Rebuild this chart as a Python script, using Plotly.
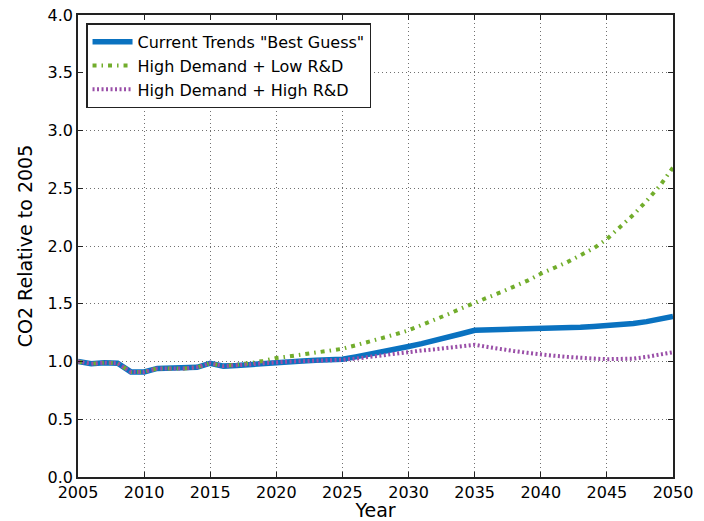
import plotly.graph_objects as go

# Annual CO2 emissions relative to the 2005 level, by scenario
years = list(range(2005, 2051))

current_trends = [
    1.00, 0.98, 0.99, 0.985, 0.91, 0.91, 0.94, 0.94, 0.94, 0.95,    # 2005-2014
    0.985, 0.96, 0.965, 0.975, 0.985, 0.995, 1.00, 1.005, 1.01, 1.015,  # 2015-2024
    1.02, 1.04, 1.06, 1.08, 1.105, 1.13, 1.155, 1.18, 1.21, 1.24,   # 2025-2034
    1.27, 1.272, 1.274, 1.276, 1.278, 1.28, 1.285, 1.29, 1.297, 1.304,  # 2035-2044
    1.31, 1.32, 1.33, 1.345, 1.365, 1.39,                             # 2045-2050
]

high_demand_low_rd = [
    1.00, 0.98, 0.99, 0.985, 0.91, 0.91, 0.94, 0.94, 0.94, 0.95,
    0.985, 0.96, 0.97, 0.985, 1.005, 1.03, 1.045, 1.06, 1.075, 1.09,
    1.11, 1.14, 1.17, 1.20, 1.235, 1.27, 1.315, 1.36, 1.41, 1.46,
    1.51, 1.555, 1.60, 1.65, 1.70, 1.76, 1.81, 1.86, 1.92, 1.98,
    2.06, 2.16, 2.27, 2.39, 2.52, 2.68,
]

high_demand_high_rd = [
    1.00, 0.98, 0.99, 0.985, 0.91, 0.91, 0.94, 0.94, 0.94, 0.95,
    0.985, 0.96, 0.965, 0.975, 0.985, 0.995, 1.00, 1.003, 1.006, 1.01,
    1.015, 1.025, 1.04, 1.055, 1.07, 1.085, 1.095, 1.105, 1.12, 1.13,
    1.145, 1.125, 1.105, 1.09, 1.075, 1.06, 1.05, 1.04, 1.03, 1.025,
    1.02, 1.02, 1.025, 1.04, 1.06, 1.08,
]

series_names = [
    'Current Trends "Best Guess"',
    "High Demand + Low R&D",
    "High Demand + High R&D",
]

x_ticks = list(range(2005, 2051, 5))
y_ticks = [0.0, 0.5, 1.0, 1.5, 2.0, 2.5, 3.0, 3.5, 4.0]

FONT = "DejaVu Sans"

fig = go.Figure()
fig.add_trace(go.Scatter(
    x=years, y=current_trends, name=series_names[0], mode="lines",
    line=dict(color="#0a72c0", width=5.5),
))
fig.add_trace(go.Scatter(
    x=years, y=high_demand_low_rd, name=series_names[1], mode="lines",
    line=dict(color="#72ad2c", width=4, dash="4px,5px,1.5px,5px"),
))
fig.add_trace(go.Scatter(
    x=years, y=high_demand_high_rd, name=series_names[2], mode="lines",
    line=dict(color="#9a4fa8", width=4, dash="2px,2.5px"),
))

axis_common = dict(
    showline=True, linecolor="#222222", linewidth=1.5, mirror="ticks",
    ticks="inside", ticklen=5, tickwidth=1, tickcolor="#222222",
    showgrid=True, gridcolor="#707070", gridwidth=1, griddash="1px,3px",
    zeroline=False, automargin=False,
    tickfont=dict(family=FONT, size=16, color="black"),
)

fig.update_xaxes(
    range=[2005, 2050], tickvals=x_ticks, ticktext=[str(v) for v in x_ticks],
    title=dict(text="Year", font=dict(family=FONT, size=19, color="black"), standoff=4),
    **axis_common,
)
fig.update_yaxes(
    range=[0, 4.0], tickvals=y_ticks, ticktext=[f"{v:.1f}" for v in y_ticks],
    title=dict(text="CO2 Relative to 2005", font=dict(family=FONT, size=19, color="black"), standoff=10),
    **axis_common,
)

fig.update_layout(
    width=704, height=521,
    margin=dict(l=78, r=31, t=15, b=44),
    paper_bgcolor="white", plot_bgcolor="white",
    font=dict(family=FONT, color="black"),
    showlegend=True,
    legend=dict(
        x=0.0135, y=0.982, xanchor="left", yanchor="top",
        bgcolor="white", bordercolor="#222222", borderwidth=1.5,
        font=dict(family=FONT, size=16, color="black"),
        tracegroupgap=0, itemwidth=40,
    ),
)

fig.write_html("out.html")
